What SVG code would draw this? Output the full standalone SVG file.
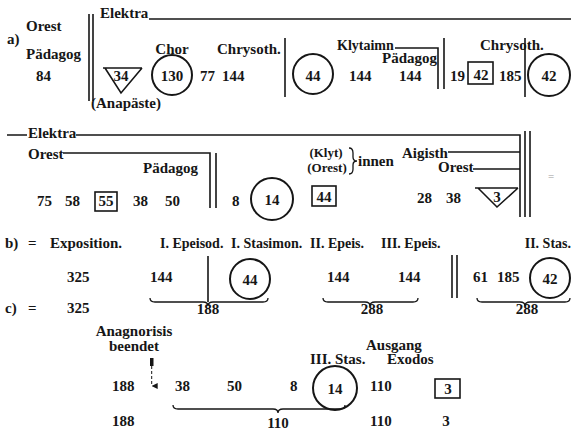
<svg xmlns="http://www.w3.org/2000/svg" width="571" height="431" viewBox="0 0 571 431">
<defs>
<style>
.t{font-family:"Liberation Serif","Times New Roman",serif;font-size:15px;font-weight:bold;fill:#161616}
.s{font-size:14px}
.xs{font-size:13px}
.m{text-anchor:middle}
.e{text-anchor:end}
.ln{stroke:#161616;stroke-width:1.6;fill:none}
.th{stroke:#161616;stroke-width:2;fill:none}
.br{stroke:#161616;stroke-width:1.3;fill:none}
</style>
<marker id="ah" viewBox="0 0 6 6" refX="3" refY="6" markerWidth="6" markerHeight="6" orient="auto-start-reverse" markerUnits="userSpaceOnUse">
<path d="M0,0 L3,6 L6,0 Z" fill="#161616"/>
</marker>
</defs>
<rect width="571" height="431" fill="#fff"/>

<g id="row-a">
<text class="t" x="26" y="31">Orest</text>
<text class="t" x="7" y="44">a)</text>
<text class="t" x="26" y="59">Pädagog</text>
<text class="t" x="36" y="81">84</text>
<text class="t" x="100" y="18">Elektra</text>
<text class="t m" x="172" y="54">Chor</text>
<text class="t" x="217" y="54">Chrysoth.</text>
<g id="tri34"><path class="ln" d="M103,68 H142 M105,68 L121,93 L142,68"/><text class="t m" x="121" y="81">34</text></g>
<text class="t" x="91" y="108">(Anapäste)</text>
<g id="c130"><circle class="th" cx="172" cy="75" r="20"/><text class="t m" x="172" y="81">130</text></g>
<text class="t" x="200" y="81">77</text>
<text class="t" x="222" y="81">144</text>
<g id="c44a"><circle class="th" cx="313" cy="74" r="20"/><text class="t m" x="313" y="81">44</text></g>
<text class="t s" x="337" y="50">Klytaimn</text>
<text class="t" x="382" y="63">Pädagog</text>
<text class="t" x="349" y="81">144</text>
<text class="t" x="399" y="81">144</text>
<text class="t" x="450" y="81">19</text>
<g id="b42"><rect class="ln" x="468" y="62" width="25" height="22"/><text class="t m" x="481" y="80">42</text></g>
<text class="t" x="499" y="81">185</text>
<text class="t" x="480" y="50">Chrysoth.</text>
<g id="c42a"><circle class="th" cx="549" cy="75" r="21"/><text class="t m" x="549" y="81">42</text></g>
</g>

<g id="row-2">
<text class="t" x="28" y="138">Elektra</text>
<text class="t" x="28" y="159">Orest</text>
<text class="t" x="143" y="173">Pädagog</text>
<text class="t" x="37" y="206">75</text>
<text class="t" x="65" y="206">58</text>
<g id="b55"><rect class="ln" x="95" y="192" width="22" height="19"/><text class="t m" x="106" y="206">55</text></g>
<text class="t" x="133" y="206">38</text>
<text class="t" x="165" y="206">50</text>
<text class="t" x="232" y="206">8</text>
<g id="c14a"><circle class="th" cx="272" cy="199" r="21"/><text class="t m" x="272" y="205">14</text></g>
<g id="b44"><rect class="ln" x="312" y="186" width="24" height="20"/><text class="t m" x="324" y="202">44</text></g>
<text class="t xs m" x="326" y="157">(Klyt)</text>
<text class="t xs m" x="327" y="172">(Orest)</text>
<path class="br" d="M349,148 Q353,148 353,153 L353,157 Q353,161 357,161 Q353,161 353,165 L353,169 Q353,174 349,174"/>
<text class="t" x="358" y="166">innen</text>
<text class="t" x="402" y="158">Aigisth</text>
<text class="t" x="438" y="172">Orest</text>
<text class="t" x="417" y="203">28</text>
<text class="t" x="446" y="203">38</text>
<g id="tri3"><path class="ln" d="M475,188 H518 M478,188 L497,207 L518,188"/><text class="t m" x="497" y="202">3</text></g>
<text x="551" y="180" style="font-family:'Liberation Serif',serif;font-size:11px;fill:#999" text-anchor="middle">=</text>
</g>

<g id="row-b">
<text class="t" x="5" y="248">b)</text>
<text class="t" x="28" y="248">=</text>
<text class="t" x="50" y="248">Exposition.</text>
<text class="t s" x="160" y="248">I. Epeisod.</text>
<text class="t s" x="231" y="248">I. Stasimon.</text>
<text class="t s" x="310" y="248">II. Epeis.</text>
<text class="t s" x="381" y="248">III. Epeis.</text>
<text class="t s e" x="571" y="248">II. Stas.</text>
<text class="t" x="67" y="282">325</text>
<text class="t" x="150" y="282">144</text>
<g id="c44b"><circle class="th" cx="250" cy="279" r="20"/><text class="t m" x="250" y="285">44</text></g>
<text class="t" x="327" y="282">144</text>
<text class="t" x="398" y="282">144</text>
<text class="t" x="473" y="282">61</text>
<text class="t" x="497" y="282">185</text>
<g id="c42b"><circle class="th" cx="550" cy="278" r="20"/><text class="t m" x="550" y="284">42</text></g>
<text class="t m" x="208" y="314">188</text>
<text class="t m" x="372" y="314">288</text>
<text class="t m" x="527" y="314">288</text>
</g>

<g id="row-c">
<text class="t" x="5" y="313">c)</text>
<text class="t" x="28" y="313">=</text>
<text class="t" x="67" y="313">325</text>
<text class="t m" x="134" y="336">Anagnorisis</text>
<text class="t m" x="134" y="351">beendet</text>
<rect x="150" y="358" width="3.5" height="8" fill="#161616"/>
<text class="t" x="112" y="391">188</text>
<text class="t" x="175" y="391">38</text>
<text class="t" x="227" y="391">50</text>
<text class="t" x="290" y="391">8</text>
<g id="c14b"><circle class="th" cx="335" cy="388" r="22"/><text class="t m" x="335" y="394">14</text></g>
<text class="t" x="310" y="364">III. Stas.</text>
<text class="t" x="366" y="350">Ausgang</text>
<text class="t" x="387" y="364">Exodos</text>
<text class="t" x="370" y="391">110</text>
<g id="b3"><rect class="ln" x="435" y="379" width="25" height="19"/><text class="t m" x="448" y="394">3</text></g>
<text class="t" x="112" y="426">188</text>
<text class="t m" x="278" y="428">110</text>
<text class="t" x="370" y="426">110</text>
<text class="t m" x="446" y="426">3</text>
</g>

<g id="connectors">
<path class="ln" d="M89,14 V101 M93,14 V101"/>
<path class="ln" d="M149,19 H571"/>
<path class="ln" d="M285,38 V97"/>
<path class="ln" d="M395,48 H438 V89 M444,38 V89"/>
<path class="ln" d="M525,38 V97"/>
<path class="ln" d="M7,135 H27 M76,135 H520 V217 M525,131 V217 M530,131 V217"/>
<path class="ln" d="M63,153 H210 V208 M216,153 V208"/>
<path class="ln" d="M448,152 H520 M473,169 H520"/>
<path class="ln" d="M208,256 V302"/>
<path class="ln" d="M452,255 V298 M457,255 V298"/>
<path class="br" d="M150,298 Q150,302 155,302 L203,302 Q208,302 208,306 Q208,302 213,302 L263,302 Q268,302 268,298"/>
<path class="br" d="M323,298 Q323,302 328,302 L365,302 Q370,302 370,306 Q370,302 375,302 L413,302 Q418,302 418,298"/>
<path class="br" d="M477,298 Q477,302 482,302 L520,302 Q525,302 525,306 Q525,302 530,302 L565,302 Q570,302 570,298"/>
<path class="br" d="M173,405 Q173,409 178,409 L273,409 Q278,409 278,413 Q278,409 283,409 L340,409 Q345,409 345,405"/>
<path d="M151.7,366 V386" stroke="#161616" stroke-width="1" stroke-dasharray="3,2" marker-end="url(#ah)"/>
</g>
</svg>
